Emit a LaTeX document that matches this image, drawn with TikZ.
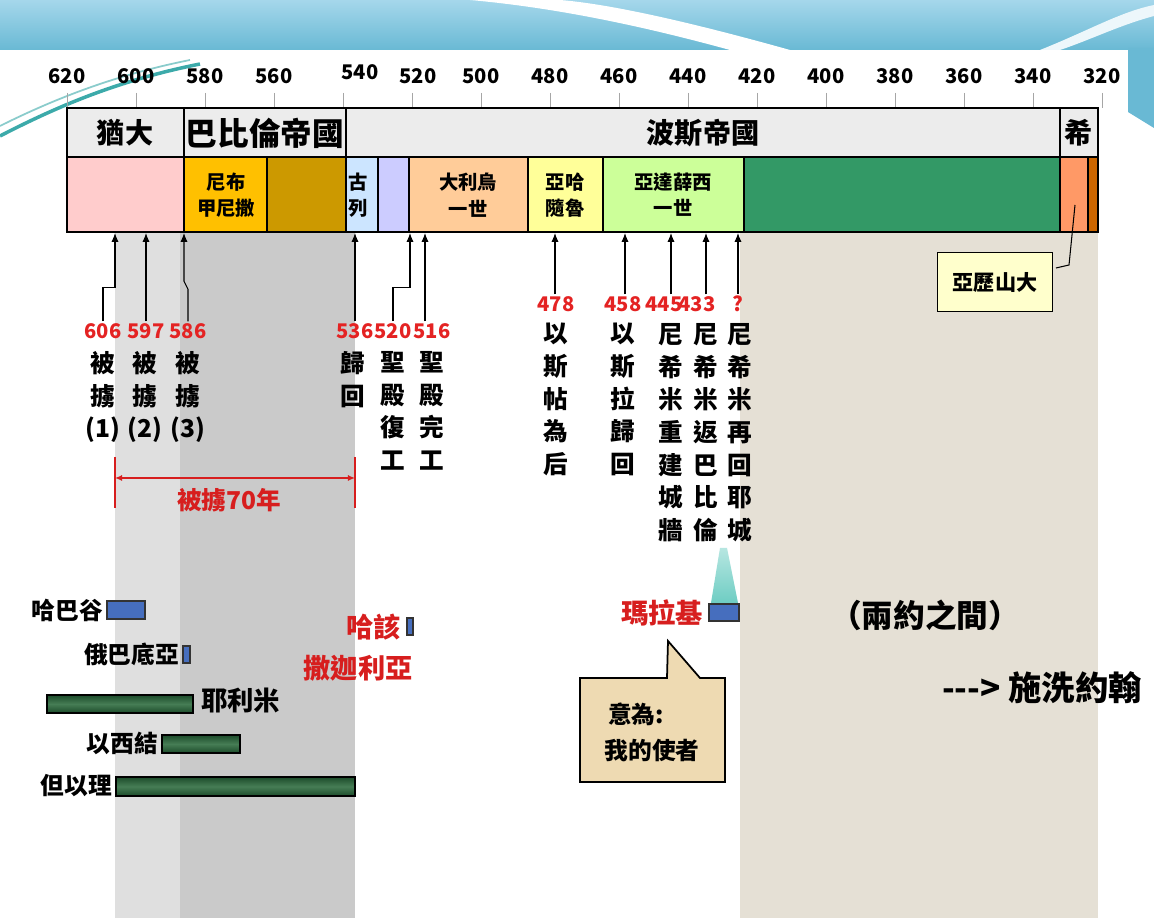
\documentclass[tikz,border=0pt]{standalone}
\usepackage{fontspec}
\setmainfont{Noto Sans CJK TC}
\usetikzlibrary{arrows.meta}

\definecolor{skytop}{RGB}{165,215,235}
\definecolor{skybot}{RGB}{105,185,212}
\definecolor{swoosh}{RGB}{60,170,170}
\definecolor{captl}{RGB}{223,223,223}
\definecolor{captd}{RGB}{202,202,202}
\definecolor{beige}{RGB}{229,224,213}
\definecolor{toprow}{RGB}{236,236,236}
\definecolor{pinkc}{RGB}{255,204,204}
\definecolor{goldc}{RGB}{255,192,0}
\definecolor{dgoldc}{RGB}{204,153,0}
\definecolor{cyrusc}{RGB}{204,229,255}
\definecolor{lavc}{RGB}{204,204,255}
\definecolor{peachc}{RGB}{255,204,153}
\definecolor{yellowc}{RGB}{255,255,153}
\definecolor{lgreenc}{RGB}{204,255,153}
\definecolor{greenc}{RGB}{51,153,102}
\definecolor{orangec}{RGB}{255,153,102}
\definecolor{dorangec}{RGB}{204,102,0}
\definecolor{numred}{RGB}{228,35,35}
\definecolor{namered}{RGB}{215,30,30}
\definecolor{pblue}{RGB}{70,110,190}
\definecolor{pgreen}{RGB}{28,75,42}
\definecolor{pgreenl}{RGB}{70,125,85}
\definecolor{alexc}{RGB}{255,255,204}
\definecolor{tanc}{RGB}{238,218,178}
\definecolor{tealc}{RGB}{110,205,195}

\begin{document}
\begin{tikzpicture}[x=0.02cm, y=-0.02cm,
        yearlbl/.style={font=\bfseries\fontsize{11.5}{13}\selectfont, inner sep=1pt},
        era/.style={font=\bfseries\fontsize{16}{18}\selectfont},
        king/.style={font=\bfseries\fontsize{11}{15}\selectfont, align=center, inner sep=0pt},
        num/.style={font=\bfseries\fontsize{11.5}{13}\selectfont, text=numred, inner sep=1pt},
        vtext/.style={font=\bfseries\fontsize{14}{18.6}\selectfont, align=center, anchor=north, inner sep=0pt},
        prophet/.style={font=\bfseries\fontsize{13.5}{15}\selectfont, inner sep=1pt},
        redname/.style={font=\bfseries\fontsize{15.5}{17}\selectfont, text=namered, inner sep=1pt},
        cell/.style={draw=black, line width=1.1pt},
        arrow/.style={-{Latex[length=5pt,width=4pt]}, semithick},
        bluebar/.style={draw=black!80, fill=pblue, line width=0.8pt},
        greenbar/.style={draw=black, line width=0.9pt, top color=pgreen, bottom color=pgreen, middle color=pgreenl}
    ]
        \useasboundingbox (0,0) rectangle (1154,918);
        \clip (0,0) rectangle (1154,918);

        % Background
        \fill[white] (0,0) rectangle (1154,918);
        \shade[top color=skytop, bottom color=skybot] (0,0) rectangle (1154,50);
        \fill[skybot] (1128,48) -- (1154,48) -- (1154,128) -- (1128,112) -- cycle;
        \fill[white] (470,0) .. controls (560,8) and (650,28) .. (730,50) -- (790,50) .. controls (690,22) and (610,4) .. (560,0) -- cycle;
        \fill[white!80!skytop] (1040,50) .. controls (1090,30) and (1120,12) .. (1154,5) -- (1154,16) .. controls (1120,25) and (1090,40) .. (1060,50) -- cycle;
        \draw[swoosh, line width=2pt] (0,136) .. controls (60,105) and (120,80) .. (200,64);
        \draw[swoosh!60, line width=1pt] (0,126) .. controls (60,96) and (120,74) .. (190,60);

        % Shaded periods
        \fill[captl] (115,232) rectangle (180,918);
        \fill[captd] (180,232) rectangle (355,918);
        \fill[beige] (740,232) rectangle (1098,918);

        % Time axis
        \foreach \yr/\px in {620/67,600/136,580/205,560/274,500/481,480/550,460/619,440/688,420/757,400/826,380/895,360/964,340/1033,320/1102} {
            \draw[gray!70] (\px,93) -- (\px,108);
            \node[yearlbl] (y\yr) at (\px,76) {\yr};
        }
        \draw[gray!70] (343,93) -- (343,108);
        \node[yearlbl] (y540) at (360,72) {540};
        \draw[gray!70] (412,93) -- (412,108);
        \node[yearlbl] (y520) at (418,76) {520};

        % Empires
        \filldraw[cell, fill=toprow] (67,108) rectangle (184,157);
        \filldraw[cell, fill=toprow] (184,108) rectangle (346,157);
        \filldraw[cell, fill=toprow] (346,108) rectangle (1060,157);
        \filldraw[cell, fill=toprow] (1060,108) rectangle (1098,157);
        \node[era] (judah) at (125,133) {猶大};
        \node[era, font=\bfseries\fontsize{18}{20}\selectfont] (babylon) at (265,133) {巴比倫帝國};
        \node[era] (persia) at (703,133) {波斯帝國};
        \node[era] (greece) at (1079,133) {希};

        % Kings
        \filldraw[cell, fill=pinkc] (67,157) rectangle (184,232);
        \filldraw[cell, fill=goldc] (184,157) rectangle (267,232);
        \filldraw[cell, fill=dgoldc] (267,157) rectangle (346,232);
        \filldraw[cell, fill=cyrusc] (346,157) rectangle (378,232);
        \filldraw[cell, fill=lavc] (378,157) rectangle (409,232);
        \filldraw[cell, fill=peachc] (409,157) rectangle (528,232);
        \filldraw[cell, fill=yellowc] (528,157) rectangle (603,232);
        \filldraw[cell, fill=lgreenc] (603,157) rectangle (744,232);
        \filldraw[cell, fill=greenc] (744,157) rectangle (1060,232);
        \filldraw[cell, fill=orangec] (1060,157) rectangle (1088,232);
        \filldraw[cell, fill=dorangec] (1088,157) rectangle (1098,232);
        \node[king] (nebu) at (226,195) {尼布\\甲尼撒};
        \node[king] (cyrus) at (358,195) {古\\列};
        \node[king] (darius) at (468,195) {大利烏\\一世};
        \node[king] (xerxes) at (565,195) {亞哈\\隨魯};
        \node[king] (artax) at (673,195) {亞達薛西\\一世};

        % Events (left)
        \coordinate (t606) at (115,233);
        \coordinate (t597) at (146,233);
        \coordinate (t586) at (184,233);
        \coordinate (t536) at (355,233);
        \coordinate (t520) at (410,233);
        \coordinate (t516) at (425,233);
        \node[num] (n606) at (103,331) {606};
        \node[num] (n597) at (146,331) {597};
        \node[num] (n586) at (188,331) {586};
        \node[num] (n536) at (355,331) {536};
        \node[num] (n520) at (393,331) {520};
        \node[num] (n516) at (432,331) {516};
        \draw[arrow] (n606.north) -- ++(0,-34) -| (t606);
        \draw[arrow] (n597.north) -- (t597);
        \draw[arrow] (n586.north) -- ++(0,-32) -- ++(-4,-8) -- (t586);
        \draw[arrow] (n536.north) -- (t536);
        \draw[arrow] (n520.north) -- ++(0,-34) -| (t520);
        \draw[arrow] (n516.north -| t516) -- (t516);
        \node[vtext] (c606) at (103,351) {被\\擄\\(1)};
        \node[vtext] (c597) at (145,351) {被\\擄\\(2)};
        \node[vtext] (c586) at (188,351) {被\\擄\\(3)};
        \node[vtext] (c536) at (353,351) {歸\\回};
        \node[vtext] (c520) at (393,351) {聖\\殿\\復\\工};
        \node[vtext] (c516) at (432,351) {聖\\殿\\完\\工};

        % Exile span
        \coordinate (exs) at (115,478);
        \coordinate (exe) at (355,478);
        \draw[namered, thick] (115,457) -- (115,508);
        \draw[namered, thick] (355,457) -- (355,508);
        \draw[namered, thick, {Latex[length=4pt,width=3.5pt]}-{Latex[length=4pt,width=3.5pt]}] (exs) -- (exe);
        \node[font=\bfseries\fontsize{14}{16}\selectfont, text=namered] (exile) at (229,500) {被擄70年};

        % Events (right)
        \coordinate (t478) at (555,233);
        \coordinate (t458) at (625,233);
        \coordinate (t445) at (671,233);
        \coordinate (t433) at (706,233);
        \coordinate (tq) at (738,233);
        \node[num] (n478) at (556,304) {478};
        \node[num] (n458) at (623,304) {458};
        \node[num] (n445) at (664,304) {445};
        \node[num] (n433) at (697,304) {433};
        \node[num] (nq) at (738,304) {?};
        \draw[arrow] (n478.north -| t478) -- (t478);
        \draw[arrow] (n458.north -| t458) -- (t458);
        \draw[arrow] (n445.north -| t445) -- (t445);
        \draw[arrow] (n433.north -| t433) -- (t433);
        \draw[arrow] (nq.north -| tq) -- (tq);
        \node[vtext] (c478) at (556,323) {以\\斯\\帖\\為\\后};
        \node[vtext] (c458) at (623,323) {以\\斯\\拉\\歸\\回};
        \node[vtext] (c445) at (671,323) {尼\\希\\米\\重\\建\\城\\牆};
        \node[vtext] (c433) at (706,323) {尼\\希\\米\\返\\巴\\比\\倫};
        \node[vtext] (cq) at (740,323) {尼\\希\\米\\再\\回\\耶\\城};

        % Alexander
        \node[draw=black, line width=1.1pt, fill=alexc, minimum width=2.3cm, minimum height=1.18cm,
              font=\bfseries\fontsize{12}{14}\selectfont] (alex) at (995,282) {亞歷山大};
        \coordinate (alexpt) at (1075,205);
        \coordinate (alexhook) at (1056,268);
        \draw[semithick] (alexpt) -- (1069,265) -- (alexhook);

        % Prophets
        \node[prophet, anchor=east] (habakkuk) at (105,610) {哈巴谷};
        \draw[bluebar] (107,601) rectangle (145,619);
        \node[prophet, anchor=east] (obadiah) at (181,654) {俄巴底亞};
        \draw[bluebar] (183,646) rectangle (190,663);
        \draw[greenbar] (47,695) rectangle (193,713);
        \node[prophet, anchor=west, font=\bfseries\fontsize{15}{17}\selectfont] (jeremiah) at (199,700) {耶利米};
        \node[prophet, anchor=east] (ezekiel) at (160,743) {以西結};
        \draw[greenbar] (162,735) rectangle (240,753);
        \node[prophet, anchor=east] (daniel) at (114,786) {但以理};
        \draw[greenbar] (116,777) rectangle (355,796);
        \node[redname, anchor=east] (haggai) at (403,627) {哈該};
        \draw[bluebar] (407,618) rectangle (413,635);
        \node[redname] (zechariah) at (358,668) {撒迦利亞};

        % Malachi
        \shade[top color=tealc!50, bottom color=tealc] (720,548) -- (727,548) -- (738,603) -- (711,603) -- cycle;
        \node[redname, anchor=east] (malachi) at (705,613) {瑪拉基};
        \draw[bluebar] (709,604) rectangle (739,621);
        \filldraw[fill=tanc, draw=black, line width=1pt] (580,678) -- (667,678) -- (668,641) -- (700,678) -- (725,678) -- (725,782) -- (580,782) -- cycle;
        \node[font=\bfseries\fontsize{13.5}{15}\selectfont] (mean1) at (636,714) {意為:};
        \node[font=\bfseries\fontsize{13.5}{15}\selectfont] (mean2) at (652,751) {我的使者};

        % Between testaments
        \node[font=\bfseries\fontsize{18}{20}\selectfont] (between) at (925,615) {（兩約之間）};
        \node[font=\bfseries\fontsize{19}{21}\selectfont, anchor=west, inner sep=1pt] (baptist) at (940,688) {-{}-{}-{}> 施洗約翰};
    \end{tikzpicture}
\end{document}
